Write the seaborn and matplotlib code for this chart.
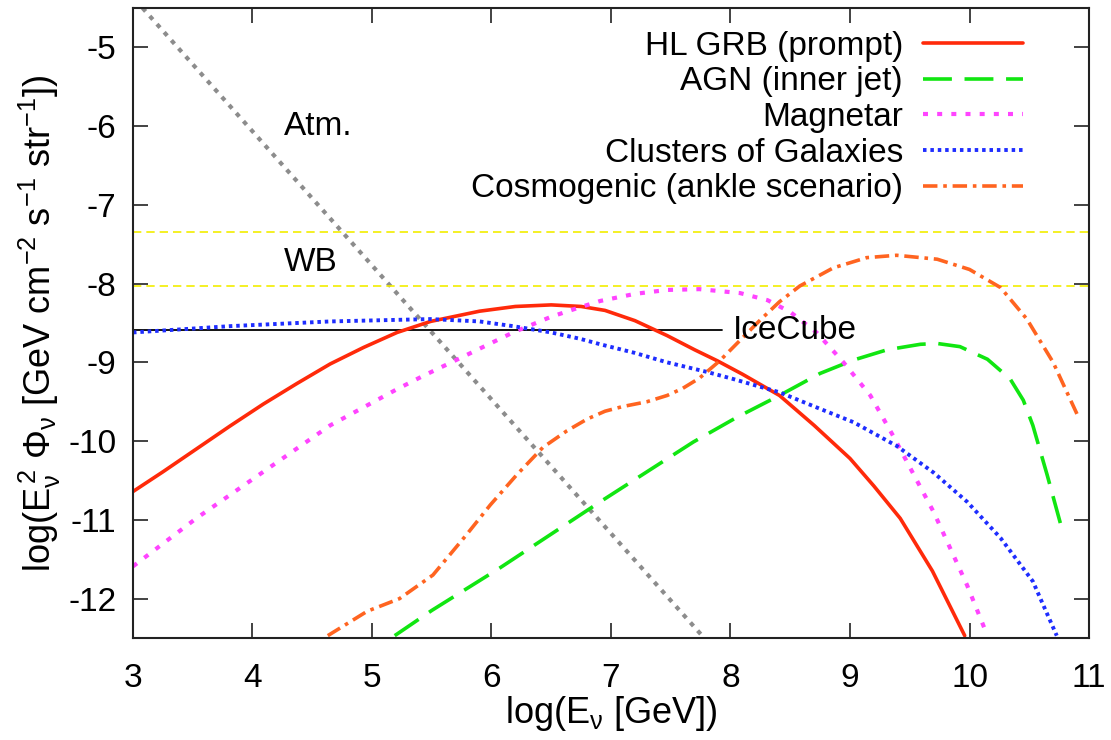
import numpy as np
import pandas as pd
import matplotlib
matplotlib.use("Agg")
import matplotlib.pyplot as plt
import seaborn as sns

# Valores
grb_x = [3.0, 3.25, 3.53, 3.81, 4.09, 4.37, 4.65, 4.93, 5.21, 5.49, 5.9, 6.2, 6.5, 6.75,
         6.95, 7.2, 7.47, 7.7, 7.89, 8.1, 8.41, 8.7, 9.0, 9.2, 9.42, 9.69, 9.96]
grb_y = [-10.64, -10.39, -10.10, -9.81, -9.53, -9.27, -9.02, -8.81, -8.62, -8.48, -8.35,
         -8.29, -8.27, -8.29, -8.34, -8.47, -8.66, -8.84, -8.98, -9.15, -9.42, -9.80,
         -10.22, -10.57, -10.98, -11.65, -12.47]

agn_x = [5.19, 5.5, 6.07, 6.5, 6.91, 7.3, 7.69, 8.05, 8.41, 8.75, 9.03, 9.31, 9.59, 9.73,
         9.92, 10.15, 10.34, 10.45, 10.53, 10.65, 10.76]
agn_y = [-12.47, -12.15, -11.61, -11.18, -10.77, -10.39, -10.01, -9.70, -9.42, -9.14,
         -8.97, -8.84, -8.77, -8.76, -8.80, -8.96, -9.21, -9.48, -9.80, -10.43, -11.04]

mag_x = [3.0, 3.53, 4.09, 4.65, 5.21, 5.43, 5.8, 6.18, 6.5, 6.74, 6.91, 7.2, 7.47, 7.74,
         8.08, 8.31, 8.5, 8.72, 8.94, 9.17, 9.36, 9.7, 9.98, 10.15]
mag_y = [-11.59, -10.98, -10.39, -9.80, -9.34, -9.17, -8.90, -8.62, -8.42, -8.30, -8.22,
         -8.13, -8.08, -8.07, -8.12, -8.21, -8.36, -8.62, -8.99, -9.42, -9.93, -10.90,
         -11.83, -12.47]

clu_x = [3.0, 3.81, 4.65, 5.49, 5.9, 6.18, 6.5, 6.74, 6.91, 7.2, 7.47, 7.8, 8.02, 8.41,
         8.75, 9.03, 9.39, 9.7, 9.98, 10.26, 10.53, 10.73]
clu_y = [-8.62, -8.54, -8.48, -8.45, -8.48, -8.54, -8.62, -8.70, -8.77, -8.88, -9.00,
         -9.12, -9.21, -9.38, -9.59, -9.76, -10.06, -10.40, -10.77, -11.23, -11.78, -12.47]

cos_x = [4.63, 4.96, 5.23, 5.51, 5.79, 5.99, 6.21, 6.43, 6.63, 6.8, 6.95, 7.1, 7.3, 7.47,
         7.6, 7.74, 7.91, 8.08, 8.25, 8.41, 8.58, 8.86, 9.14, 9.39, 9.73, 10.0, 10.26,
         10.48, 10.70, 10.91]
cos_y = [-12.47, -12.16, -12.0, -11.70, -11.19, -10.81, -10.43, -10.08, -9.87, -9.72,
         -9.62, -9.56, -9.50, -9.42, -9.33, -9.20, -8.98, -8.72, -8.46, -8.23, -8.03,
         -7.80, -7.67, -7.64, -7.69, -7.82, -8.05, -8.45, -9.00, -9.69]

atm_x = [3.08, 7.78]
atm_y = [-4.5, -12.5]

wb_y = [-7.35, -8.03]
icecube_x = [3.0, 7.93]
icecube_y = -8.59

labels = ["HL GRB (prompt)", "AGN (inner jet)", "Magnetar", "Clusters of Galaxies",
          "Cosmogenic (ankle scenario)"]

sns.set_theme(style="ticks")
plt.rcParams["font.family"] = ["Liberation Sans", "DejaVu Sans"]
plt.rcParams["mathtext.fontset"] = "custom"
plt.rcParams["mathtext.rm"] = "Liberation Sans"
plt.rcParams["mathtext.it"] = "Liberation Sans"
plt.rcParams["mathtext.sf"] = "Liberation Sans"
plt.rcParams["axes.unicode_minus"] = False
plt.rcParams["text.color"] = "black"
plt.rcParams["axes.labelcolor"] = "black"
plt.rcParams["xtick.color"] = "black"
plt.rcParams["ytick.color"] = "black"

fig = plt.figure(figsize=(11.11, 7.4), dpi=100)
ax = fig.add_axes([0.1197, 0.1378, 0.8605, 0.8514])

fs = 24

# Lineas de referencia
ax.plot(atm_x, atm_y, color="#8c8c8c", lw=3.0, linestyle=(0, (1.1, 1.5)))
for yy in wb_y:
    ax.axhline(yy, color="#f2ee00", lw=1.2, linestyle=(0, (5, 3)))
ax.plot(icecube_x, [icecube_y, icecube_y], color="black", lw=1.3)

# Curvas de flujo
estilos = [
    (grb_x, grb_y, "#ff2a0a", "-", 2.6),
    (agn_x, agn_y, "#11e611", (0, (8, 3.5)), 2.6),
    (mag_x, mag_y, "#ff44ff", (0, (1.2, 2.2)), 3.0),
    (clu_x, clu_y, "#1e2dff", (0, (0.9, 1.0)), 2.8),
    (cos_x, cos_y, "#ff6420", (0, (4, 1.6, 1, 1.6)), 2.6),
]
handles = []
for (xs, ys, col, ls, lw), lab in zip(estilos, labels):
    df = pd.DataFrame({"x": xs, "y": ys})
    sns.lineplot(data=df, x="x", y="y", ax=ax, color=col, linestyle=ls, lw=lw,
                 sort=False, estimator=None)
    handles.append(ax.lines[-1])

ax.set_xlim(3, 11)
ax.set_ylim(-12.5, -4.5)
ax.set_xticks(range(3, 12))
ax.set_yticks(range(-12, -4))

ax.tick_params(direction="in", length=11, width=1.2, top=True, right=True,
               labelsize=fs, color="#222222")
ax.tick_params(axis="x", pad=18)
ax.tick_params(axis="y", pad=12)
for s in ax.spines.values():
    s.set_linewidth(1.5)
    s.set_color("#222222")

ax.set_xlabel(r"log(E$_\nu$ [GeV])", fontsize=26, labelpad=0)
ax.set_ylabel(r"log(E$_\nu^{\,2}$ $\Phi_\nu$ [GeV cm$^{-2}$ s$^{-1}$ str$^{-1}$])",
              fontsize=26, labelpad=4)

ax.text(4.26, -6.0, "Atm.", fontsize=fs, va="center", ha="left")
ax.text(4.26, -7.73, "WB", fontsize=fs, va="center", ha="left")
ax.text(8.02, -8.6, "IceCube", fontsize=fs, va="center", ha="left")

ax.legend(handles, labels, loc="upper right", bbox_to_anchor=(0.945, 0.985),
          frameon=False, markerfirst=False, fontsize=fs, labelspacing=0.14,
          handlelength=3.0, handletextpad=0.6, borderaxespad=0.0, borderpad=0.4)

fig.savefig("out.png", dpi=100)
